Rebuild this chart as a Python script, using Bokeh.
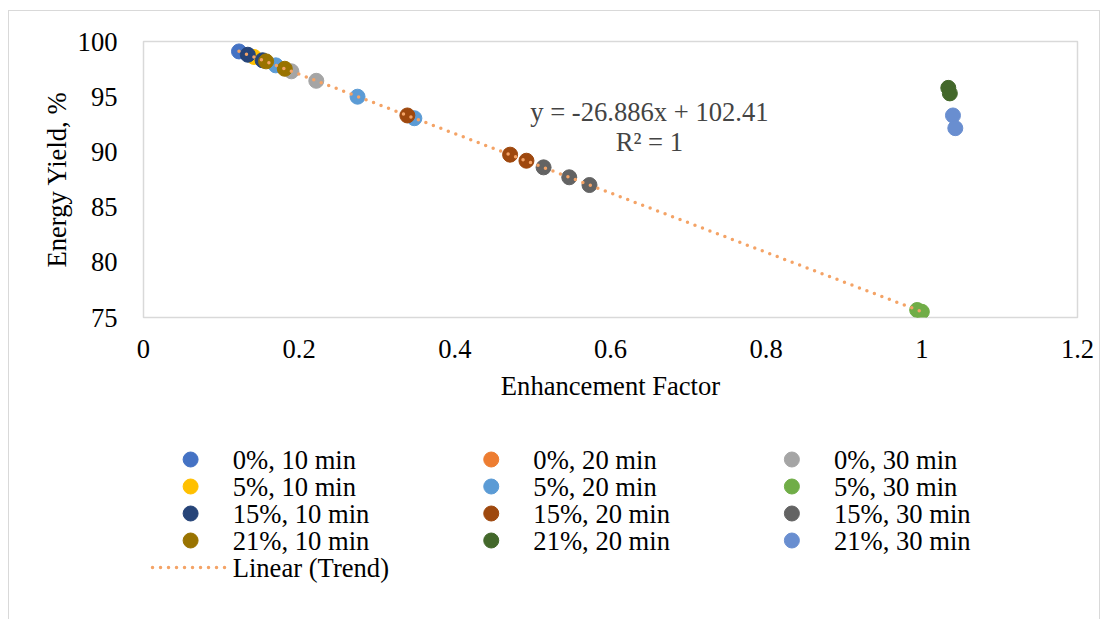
from bokeh.plotting import figure
from bokeh.layouts import column
from bokeh.models import (ColumnDataSource, Label, FixedTicker,
                          NumeralTickFormatter, Range1d)
from bokeh.core.properties import value
from bokeh.embed import file_html
from bokeh.resources import INLINE

# ---- data ----
series_names = ["0%, 10 min", "0%, 20 min", "0%, 30 min",
                "5%, 10 min", "5%, 20 min", "5%, 30 min",
                "15%, 10 min", "15%, 20 min", "15%, 30 min",
                "21%, 10 min", "21%, 20 min", "21%, 30 min"]
series_colors = ["#4472C4", "#ED7D31", "#A5A5A5",
                 "#FFC000", "#5B9BD5", "#70AD47",
                 "#264478", "#9E480E", "#636363",
                 "#997300", "#43682B", "#698ED0"]
x_0_10 = [0.1227];            y_0_10 = [99.1]
x_0_20 = [];                  y_0_20 = []
x_0_30 = [0.190, 0.222];      y_0_30 = [97.3, 96.44]
x_5_10 = [0.142];             y_5_10 = [98.6]
x_5_20 = [0.170, 0.275, 0.348]; y_5_20 = [97.84, 95.0, 93.05]
x_5_30 = [0.994, 1.0];        y_5_30 = [75.68, 75.52]
x_15_10 = [0.134, 0.153];     y_15_10 = [98.8, 98.3]
x_15_20 = [0.339, 0.471, 0.492]; y_15_20 = [93.3, 89.75, 89.2]
x_15_30 = [0.514, 0.547, 0.573]; y_15_30 = [88.6, 87.7, 87.0]
x_21_10 = [0.1575, 0.1815];   y_21_10 = [98.2, 97.53]
x_21_20 = [1.034, 1.036];     y_21_20 = [95.8, 95.3]
x_21_30 = [1.040, 1.043];     y_21_30 = [93.3, 92.15]

series_x = [x_0_10, x_0_20, x_0_30, x_5_10, x_5_20, x_5_30,
            x_15_10, x_15_20, x_15_30, x_21_10, x_21_20, x_21_30]
series_y = [y_0_10, y_0_20, y_0_30, y_5_10, y_5_20, y_5_30,
            y_15_10, y_15_20, y_15_30, y_21_10, y_21_20, y_21_30]

trend_slope = -26.886
trend_intercept = 102.41
trend_label = "Linear (Trend)"
equation_text = "y = -26.886x + 102.41"
r2_text = "R² = 1"

x_ticks = [0, 0.2, 0.4, 0.6, 0.8, 1.0, 1.2]
y_ticks = [75, 80, 85, 90, 95, 100]

FONT = "Liberation Serif"
FS = "26.6px"
BORDER = "1px solid #D9D9D9"
TREND_COLOR = "#F4A366"
FW, FH = 932, 275
BL, BR = 134, 24

# ---------------- chart ----------------
p = figure(frame_width=FW, frame_height=FH,
           min_border_left=BL, min_border_right=BR,
           min_border_top=30, min_border_bottom=100,
           x_range=Range1d(0, 1.2), y_range=Range1d(75, 100),
           output_backend="svg", toolbar_location=None,
           x_axis_label="Enhancement Factor", y_axis_label="Energy Yield, %",
           margin=(10, 0, 0, 8),
           styles={"border-top": BORDER, "border-left": BORDER, "border-right": BORDER})

p.grid.visible = False
p.outline_line_color = "#D9D9D9"
p.outline_line_width = 1.5

for ax in (p.xaxis[0], p.yaxis[0]):
    ax.axis_line_color = None
    ax.major_tick_line_color = None
    ax.minor_tick_line_color = None
    ax.major_label_text_font = FONT
    ax.major_label_text_font_size = FS
    ax.major_label_text_color = "black"
    ax.axis_label_text_font = FONT
    ax.axis_label_text_font_size = FS
    ax.axis_label_text_font_style = "normal"
    ax.axis_label_text_color = "black"

p.xaxis.ticker = FixedTicker(ticks=x_ticks)
p.xaxis.formatter = NumeralTickFormatter(format="0.[0]")
p.yaxis.ticker = FixedTicker(ticks=y_ticks)
p.xaxis.major_label_standoff = 16
p.yaxis.major_label_standoff = 20
p.xaxis.axis_label_standoff = 10
p.yaxis.axis_label_standoff = 3

for name, col, xs, ys in zip(series_names, series_colors, series_x, series_y):
    src = ColumnDataSource(dict(x=xs, y=ys))
    p.scatter("x", "y", source=src, size=15, fill_color=col, line_color=col)

# trend line over the fitted series (all except 21% 20/30 min)
fit_x = [v for xs in series_x[:10] for v in xs]
tx = [min(fit_x), max(fit_x)]
ty = [trend_slope * v + trend_intercept for v in tx]
p.line(tx, ty, line_color=TREND_COLOR, line_width=3.5, line_dash="0 8", line_cap="round")

p.add_layout(Label(x=0.65, y=93.64, text=equation_text, text_align="center",
                   text_baseline="middle", text_font=FONT, text_font_size=FS))
p.add_layout(Label(x=0.65, y=90.9, text=r2_text, text_align="center",
                   text_baseline="middle", text_font=FONT, text_font_size=FS))

# ---------------- legend (3 columns, row-major) ----------------
LH = 203
lg = figure(frame_width=FW, height=LH,
            min_border_left=BL, min_border_right=BR, min_border_top=0, min_border_bottom=0,
            x_range=Range1d(0, FW), y_range=Range1d(LH, 0),
            x_axis_type=None, y_axis_type=None,
            output_backend="svg", toolbar_location=None,
            margin=(0, 0, 0, 8),
            styles={"border-left": BORDER, "border-right": BORDER})
lg.grid.visible = False
lg.outline_line_color = None

n_cols = 3
col_pitch, row_pitch = 300, 27
glyph_left, glyph_w, label_gap = 9, 76, 4
first_row = 43
rows = [i // n_cols for i in range(len(series_names))]
cols = [i % n_cols for i in range(len(series_names))]
mx = [glyph_left + glyph_w / 2 + c * col_pitch for c in cols]
my = [first_row + r * row_pitch for r in rows]
lx = [glyph_left + glyph_w + label_gap + c * col_pitch for c in cols]

lsrc = ColumnDataSource(dict(mx=mx, my=my, lx=lx, color=series_colors, label=series_names))
lg.scatter("mx", "my", source=lsrc, size=15, fill_color="color", line_color="color")
lg.text("lx", "my", text="label", source=lsrc, text_font=value(FONT),
        text_font_size=value(FS), text_baseline="middle", text_align="left",
        text_color="black")

trend_row = max(rows) + 1
ty_leg = first_row + trend_row * row_pitch
lg.line([glyph_left, glyph_left + glyph_w], [ty_leg, ty_leg], line_color=TREND_COLOR,
        line_width=3.5, line_dash="0 8", line_cap="round")
lg.text([glyph_left + glyph_w + label_gap], [ty_leg], text=[trend_label],
        text_font=value(FONT), text_font_size=value(FS), text_baseline="middle",
        text_align="left", text_color="black")

layout = column(p, lg, spacing=0)
open("out.html", "w").write(file_html(layout, INLINE))
